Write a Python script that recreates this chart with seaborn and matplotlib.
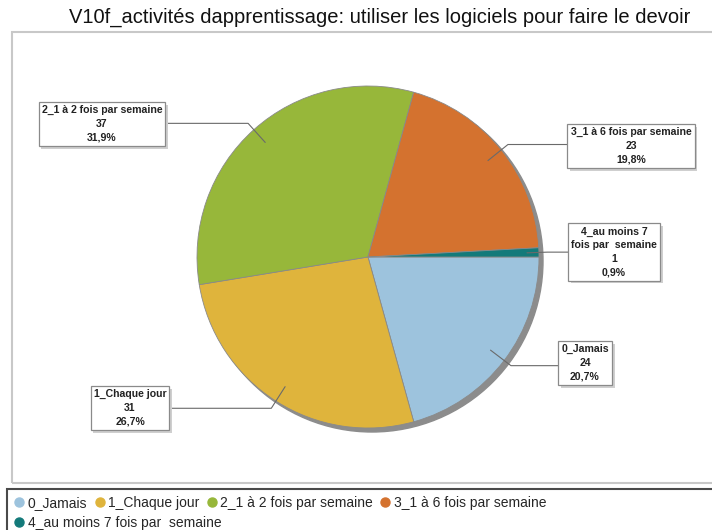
import numpy as np
import matplotlib
matplotlib.use("Agg")
import matplotlib.pyplot as plt
from matplotlib.patches import Rectangle, Circle
from matplotlib.lines import Line2D
import matplotlib.patheffects as pe
import seaborn as sns

# data
categories = ["0_Jamais", "1_Chaque jour", "2_1 à 2 fois par semaine",
              "3_1 à 6 fois par semaine", "4_au moins 7 fois par  semaine"]
box_names = ["0_Jamais", "1_Chaque jour", "2_1 à 2 fois par semaine",
             "3_1 à 6 fois par semaine", "4_au moins 7\nfois par  semaine"]
counts = [24, 31, 37, 23, 1]
title = "V10f_activités dapprentissage: utiliser les logiciels pour faire le devoir"

colors = sns.color_palette(["#9dc3dd", "#dfb43c", "#97b73a", "#d4722f", "#137a7a"])

sns.set_theme(style="white")
plt.rcParams['font.family'] = ['Liberation Sans', 'DejaVu Sans']

W, H = 712, 530
def iy(y):  # image y (top down) -> data y
    return H - y

fig = plt.figure(figsize=(W / 100, H / 100), dpi=100)
ax = fig.add_axes([0, 0, 1, 1])

cx, cy, R = 368, iy(257), 171

# frames
ax.add_patch(Rectangle((12, iy(483)), 720, 451, fill=False, ec="#c8c8c8", lw=1.5, zorder=0))
ax.add_patch(Rectangle((7, iy(540)), 720, 51, fill=False, ec="#4a4a4a", lw=1.5, zorder=0))

# shadow
ax.add_patch(Circle((cx + 4, cy - 4), R, color="#8c8c8c", zorder=1))

wedges, _ = ax.pie(counts, colors=colors, startangle=0, counterclock=False,
                   center=(cx, cy), radius=R, frame=True,
                   wedgeprops=dict(edgecolor="#8a8a8a", linewidth=0.6, zorder=2))

# label boxes
box_pos = [(585, 363), (130, 408), (102, 124), (631, 146), (614, 252)]
total = sum(counts)
for w, name, n, (bx, by) in zip(wedges, box_names, counts, box_pos):
    ang = np.deg2rad((w.theta1 + w.theta2) / 2)
    ax0 = cx + 0.9 * R * np.cos(ang)
    ay0 = cy + 0.9 * R * np.sin(ang)
    ex = cx + 1.05 * R * np.cos(ang)
    ey = cy + 1.05 * R * np.sin(ang)
    if n == min(counts):
        ax0 = cx + 0.93 * R * np.cos(ang)
    ax.plot([ax0, ex, bx], [ay0, ey, ey], color="#6a6a6a", lw=0.8, zorder=3)
    pct = f"{100 * n / total:.1f}".replace(".", ",") + "%"
    t = ax.text(bx, iy(by), f"{name}\n{n}\n{pct}", ha="center", va="center",
                fontsize=7.6, fontweight="bold", color="#222222", linespacing=1.45, zorder=5,
                bbox=dict(boxstyle="square,pad=0.3", fc="white", ec="#8a8a8a", lw=0.9))
    t.get_bbox_patch().set_path_effects(
        [pe.SimplePatchShadow(offset=(2, -2), shadow_rgbFace="#cfcfcf", alpha=1), pe.Normal()])

ax.text(380, iy(17), title, ha="center", va="center", fontsize=14.5,
        family=["Liberation Sans", "DejaVu Sans"], color="#111111")

# legend
handles = [Line2D([], [], marker="o", ls="", ms=6.5, mfc=c, mec=c) for c in colors]
leg1 = ax.legend(handles[:4], categories[:4], ncol=4, loc="center left",
                 bbox_to_anchor=(6 / W, iy(503) / H), frameon=False, fontsize=10,
                 handletextpad=0.15, columnspacing=0.45, handlelength=0.9, borderpad=0)
ax.add_artist(leg1)
ax.legend(handles[4:], categories[4:], loc="center left",
          bbox_to_anchor=(6 / W, iy(523) / H), frameon=False, fontsize=10,
          handletextpad=0.15, handlelength=0.9, borderpad=0)

ax.set_xlim(0, W)
ax.set_ylim(0, H)
ax.axis("off")
fig.savefig("out.png", dpi=100)
